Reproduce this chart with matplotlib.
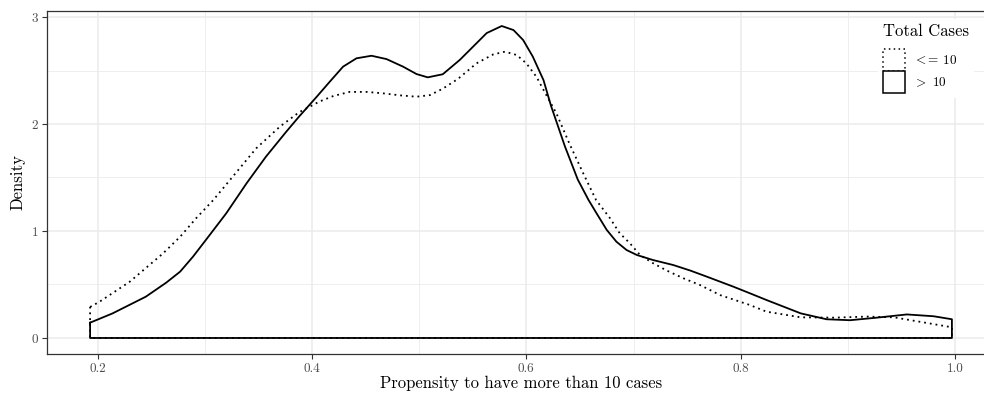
import matplotlib
matplotlib.use("Agg")
import matplotlib.pyplot as plt
from matplotlib.patches import Patch

plt.rcParams['font.family'] = 'serif'
plt.rcParams['font.serif'] = ['cmr10']
plt.rcParams['mathtext.fontset'] = 'cm'
plt.rcParams['axes.formatter.use_mathtext'] = True

# density of propensity
x_gt10 = [0.193, 0.214, 0.245, 0.264, 0.277, 0.289, 0.301, 0.320, 0.339, 0.357,
          0.376, 0.388, 0.404, 0.417, 0.429, 0.4415, 0.4555, 0.4695, 0.485, 0.4975,
          0.508, 0.522, 0.538, 0.550, 0.563, 0.577, 0.588, 0.597, 0.606, 0.616,
          0.623, 0.636, 0.648, 0.658, 0.6655, 0.675, 0.684, 0.6935, 0.703, 0.718,
          0.737, 0.753, 0.770, 0.793, 0.808, 0.824, 0.856, 0.880, 0.902, 0.927,
          0.955, 0.980, 0.997]
y_gt10 = [0.143, 0.23, 0.386, 0.517, 0.62, 0.76, 0.916, 1.165, 1.446, 1.694,
          1.928, 2.07, 2.25, 2.40, 2.536, 2.614, 2.638, 2.607, 2.536, 2.467,
          2.436, 2.465, 2.60, 2.72, 2.85, 2.916, 2.878, 2.785, 2.63, 2.41,
          2.17, 1.79, 1.48, 1.29, 1.165, 1.01, 0.90, 0.822, 0.776, 0.729,
          0.682, 0.63, 0.567, 0.48, 0.42, 0.355, 0.23, 0.175, 0.166, 0.19,
          0.22, 0.203, 0.175]

x_le10 = [0.193, 0.202, 0.230, 0.261, 0.277, 0.292, 0.308, 0.326, 0.348, 0.370,
          0.388, 0.407, 0.420, 0.435, 0.451, 0.466, 0.482, 0.4975, 0.510, 0.522,
          0.536, 0.5535, 0.569, 0.580, 0.591, 0.600, 0.6095, 0.617, 0.628, 0.640,
          0.653, 0.665, 0.678, 0.687, 0.6966, 0.706, 0.718, 0.731, 0.7465, 0.762,
          0.781, 0.808, 0.824, 0.856, 0.887, 0.918, 0.943, 0.968, 0.997]
y_le10 = [0.29, 0.34, 0.526, 0.79, 0.946, 1.12, 1.29, 1.507, 1.773, 1.975,
          2.11, 2.21, 2.262, 2.30, 2.30, 2.287, 2.268, 2.255, 2.27, 2.33,
          2.42, 2.567, 2.65, 2.676, 2.645, 2.567, 2.44, 2.30, 2.10, 1.82,
          1.54, 1.29, 1.12, 0.98, 0.885, 0.776, 0.70, 0.63, 0.558, 0.495,
          0.40, 0.31, 0.246, 0.193, 0.19, 0.20, 0.193, 0.15, 0.10]

groups = [(r'$<$= 10', x_le10, y_le10, (0, (1, 2.2))),
          (r'$>$ 10', x_gt10, y_gt10, '-')]

fig = plt.figure(figsize=(9.84, 3.99), dpi=100)
ax = fig.add_axes([47 / 984, 1 - 353.6 / 399, 948 / 984, 343 / 399])

grid_col = '#EBEBEB'
ax.set_xticks([0.2, 0.4, 0.6, 0.8, 1.0])
ax.set_xticks([0.3, 0.5, 0.7, 0.9], minor=True)
ax.set_yticks([0, 1, 2, 3])
ax.set_yticks([0.5, 1.5, 2.5], minor=True)
ax.grid(True, which='major', color=grid_col, lw=1.1)
ax.grid(True, which='minor', color=grid_col, lw=0.6)
ax.set_axisbelow(True)
ax.tick_params(which='minor', length=0)
ax.tick_params(which='major', length=3.5, width=0.8, color='#333333',
               labelcolor='#4D4D4D', labelsize=9.5, pad=3)
for s in ax.spines.values():
    s.set_color('#333333')
    s.set_linewidth(0.9)

handles = []
for label, xs, ys, ls in groups:
    # closed outline like geom_density
    px = list(xs) + [xs[-1], xs[0], xs[0]]
    py = list(ys) + [0, 0, ys[0]]
    ax.plot(px, py, color='black', lw=1.3, ls=ls, solid_joinstyle='round')
    handles.append(Patch(facecolor='white', edgecolor='black', lw=1.1, ls=ls, label=label))

ax.set_xlim(0.1528, 1.0372)
ax.set_ylim(-0.146, 3.06)
ax.set_xticklabels(['0.2', '0.4', '0.6', '0.8', '1.0'])
ax.set_yticklabels(['0', '1', '2', '3'])
ax.set_xlabel('Propensity to have more than 10 cases', fontsize=12, labelpad=1)
ax.set_ylabel('Density', fontsize=12, labelpad=4)

leg = ax.legend(handles=handles, title='Total Cases', loc='upper left',
                bbox_to_anchor=(871 / 984, 1 - 12 / 399), bbox_transform=fig.transFigure,
                frameon=True, fancybox=False, framealpha=1, edgecolor='none',
                facecolor='white', fontsize=9.5, title_fontsize=12,
                handlelength=1.67, handleheight=2.19, handletextpad=0.6,
                labelspacing=0.0, borderpad=0.4, alignment='left')
# gap between title and keys, as in ggplot
leg._legend_box.sep = 7

fig.savefig('out.png', dpi=100, facecolor='white')
